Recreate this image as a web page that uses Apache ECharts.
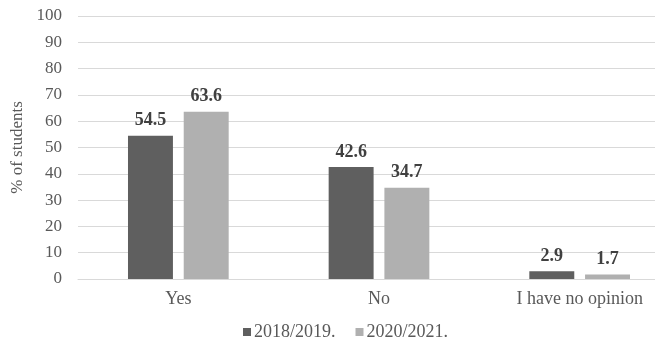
<!DOCTYPE html>
<html>
<head>
<meta charset="utf-8">
<script src="https://cdn.jsdelivr.net/npm/echarts@6/dist/echarts.min.js"></script>
<style>
  html, body { margin: 0; padding: 0; background: #fff; overflow: hidden; }
  /* wider than the window: the original picture is cropped on the right */
  #chart { width: 680px; height: 343px; }
</style>
</head>
<body>
<div id="chart"></div>
<script>
const categories = ["Yes", "No", "I have no opinion"];
const seriesNames = ["2018/2019.", "2020/2021."];
const values2018 = [54.5, 42.6, 2.9];
const values2020 = [63.6, 34.7, 1.7];
const colors = ["#5f5f5f", "#b0b0b0"];

const font = "'Liberation Serif', 'Times New Roman', serif";
const chart = echarts.init(document.getElementById("chart"));

function barSeries(name, data, color) {
  return {
    name: name,
    type: "bar",
    data: data,
    barWidth: "22.4%",
    barGap: "24%",
    itemStyle: { color: color },
    label: {
      show: true,
      position: "top",
      distance: 6,
      fontFamily: font,
      fontWeight: "bold",
      fontSize: 18,
      color: "#404040",
      formatter: function (p) { return p.value.toFixed(1); }
    }
  };
}

chart.setOption({
  animation: false,
  textStyle: { fontFamily: font },
  grid: { left: 78, right: 0, top: 16, bottom: 64 },
  legend: {
    top: 323,
    left: 243,
    padding: 0,
    itemWidth: 8,
    itemHeight: 8,
    itemGap: 20,
    icon: "rect",
    textStyle: { fontFamily: font, fontSize: 18, color: "#595959", padding: [0, 0, 0, -2] },
    data: seriesNames
  },
  xAxis: {
    type: "category",
    data: categories,
    axisLine: { lineStyle: { color: "#d9d9d9", width: 1 } },
    axisTick: { show: false },
    axisLabel: { fontFamily: font, fontSize: 18, color: "#595959", margin: 11 }
  },
  yAxis: {
    type: "value",
    min: 0,
    max: 100,
    interval: 10,
    name: "% of students",
    nameLocation: "middle",
    nameGap: 50,
    nameTextStyle: { fontFamily: font, fontSize: 17, color: "#595959" },
    axisLine: { show: false },
    axisTick: { show: false },
    axisLabel: { fontFamily: font, fontSize: 17, color: "#595959", margin: 16 },
    splitLine: { lineStyle: { color: "#d9d9d9", width: 1 } }
  },
  series: [
    barSeries(seriesNames[0], values2018, colors[0]),
    barSeries(seriesNames[1], values2020, colors[1])
  ]
});
</script>
</body>
</html>
